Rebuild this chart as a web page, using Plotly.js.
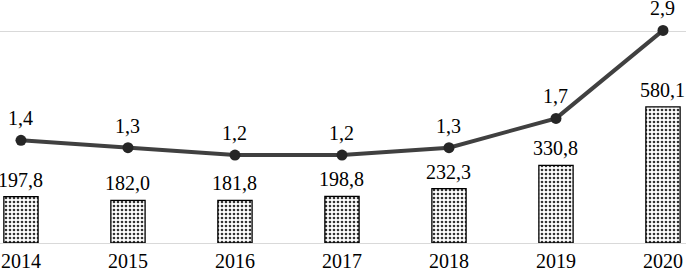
<!DOCTYPE html>
<html><head><meta charset="utf-8">
<script src="https://cdn.plot.ly/plotly-3.0.1.min.js"></script>
<style>html,body{margin:0;padding:0;background:#fff}#c{width:686px;height:276px}</style>
</head><body><div id="c"></div>
<script>
const years = ['2014','2015','2016','2017','2018','2019','2020'];
const barValues = [197.8, 182.0, 181.8, 198.8, 232.3, 330.8, 580.1];
const lineValues = [1.4, 1.3, 1.2, 1.2, 1.3, 1.7, 2.9];

const fmt = v => v.toFixed(1).replace('.', ',');
const FONT = 'Liberation Serif, Times New Roman, serif';

const bars = {
  type: 'bar', x: years, y: barValues, width: 0.32,
  marker: {color: '#ffffff', line: {color: '#000000', width: 1.3},
    pattern: {shape: '.', fgcolor: '#333333', bgcolor: '#ffffff', size: 4, solidity: 0.35}},
  hoverinfo: 'skip', showlegend: false
};
const line = {
  type: 'scatter', mode: 'lines+markers', x: years, y: lineValues, yaxis: 'y2',
  line: {color: '#404040', width: 4},
  marker: {color: '#262626', size: 11},
  hoverinfo: 'skip', showlegend: false
};

const annotations = [];
years.forEach((yr, i) => {
  annotations.push({x: i, y: barValues[i], xref: 'x', yref: 'y', text: fmt(barValues[i]),
    showarrow: false, yanchor: 'bottom', yshift: 5, borderpad: 0,
    font: {family: FONT, size: 20, color: '#000'}});
  annotations.push({x: i, y: lineValues[i], xref: 'x', yref: 'y2', text: fmt(lineValues[i]),
    showarrow: false, yanchor: 'bottom', yshift: 10, borderpad: 0,
    font: {family: FONT, size: 20, color: '#000'}});
});

const layout = {
  width: 686, height: 276,
  margin: {l: 0, r: 0, t: 20, b: 33, pad: 0},
  paper_bgcolor: '#fff', plot_bgcolor: '#fff',
  font: {family: FONT, size: 20, color: '#000'},
  xaxis: {type: 'category', range: [-0.196, 6.215], showline: true, linecolor: '#d9d9d9', linewidth: 1,
    ticks: '', showgrid: false, zeroline: false, tickfont: {family: FONT, size: 20, color: '#000'}},
  yaxis: {range: [0, 951], tickvals: [900], showticklabels: false, showgrid: true,
    gridcolor: '#d9d9d9', gridwidth: 1, zeroline: false, showline: false},
  yaxis2: {range: [0, 3.042], overlaying: 'y', side: 'right', showgrid: false, showticklabels: false,
    zeroline: false, showline: false},
  annotations: annotations,
  showlegend: false
};
Plotly.newPlot('c', [bars, line], layout, {staticPlot: true, displayModeBar: false});
</script>
</body></html>
